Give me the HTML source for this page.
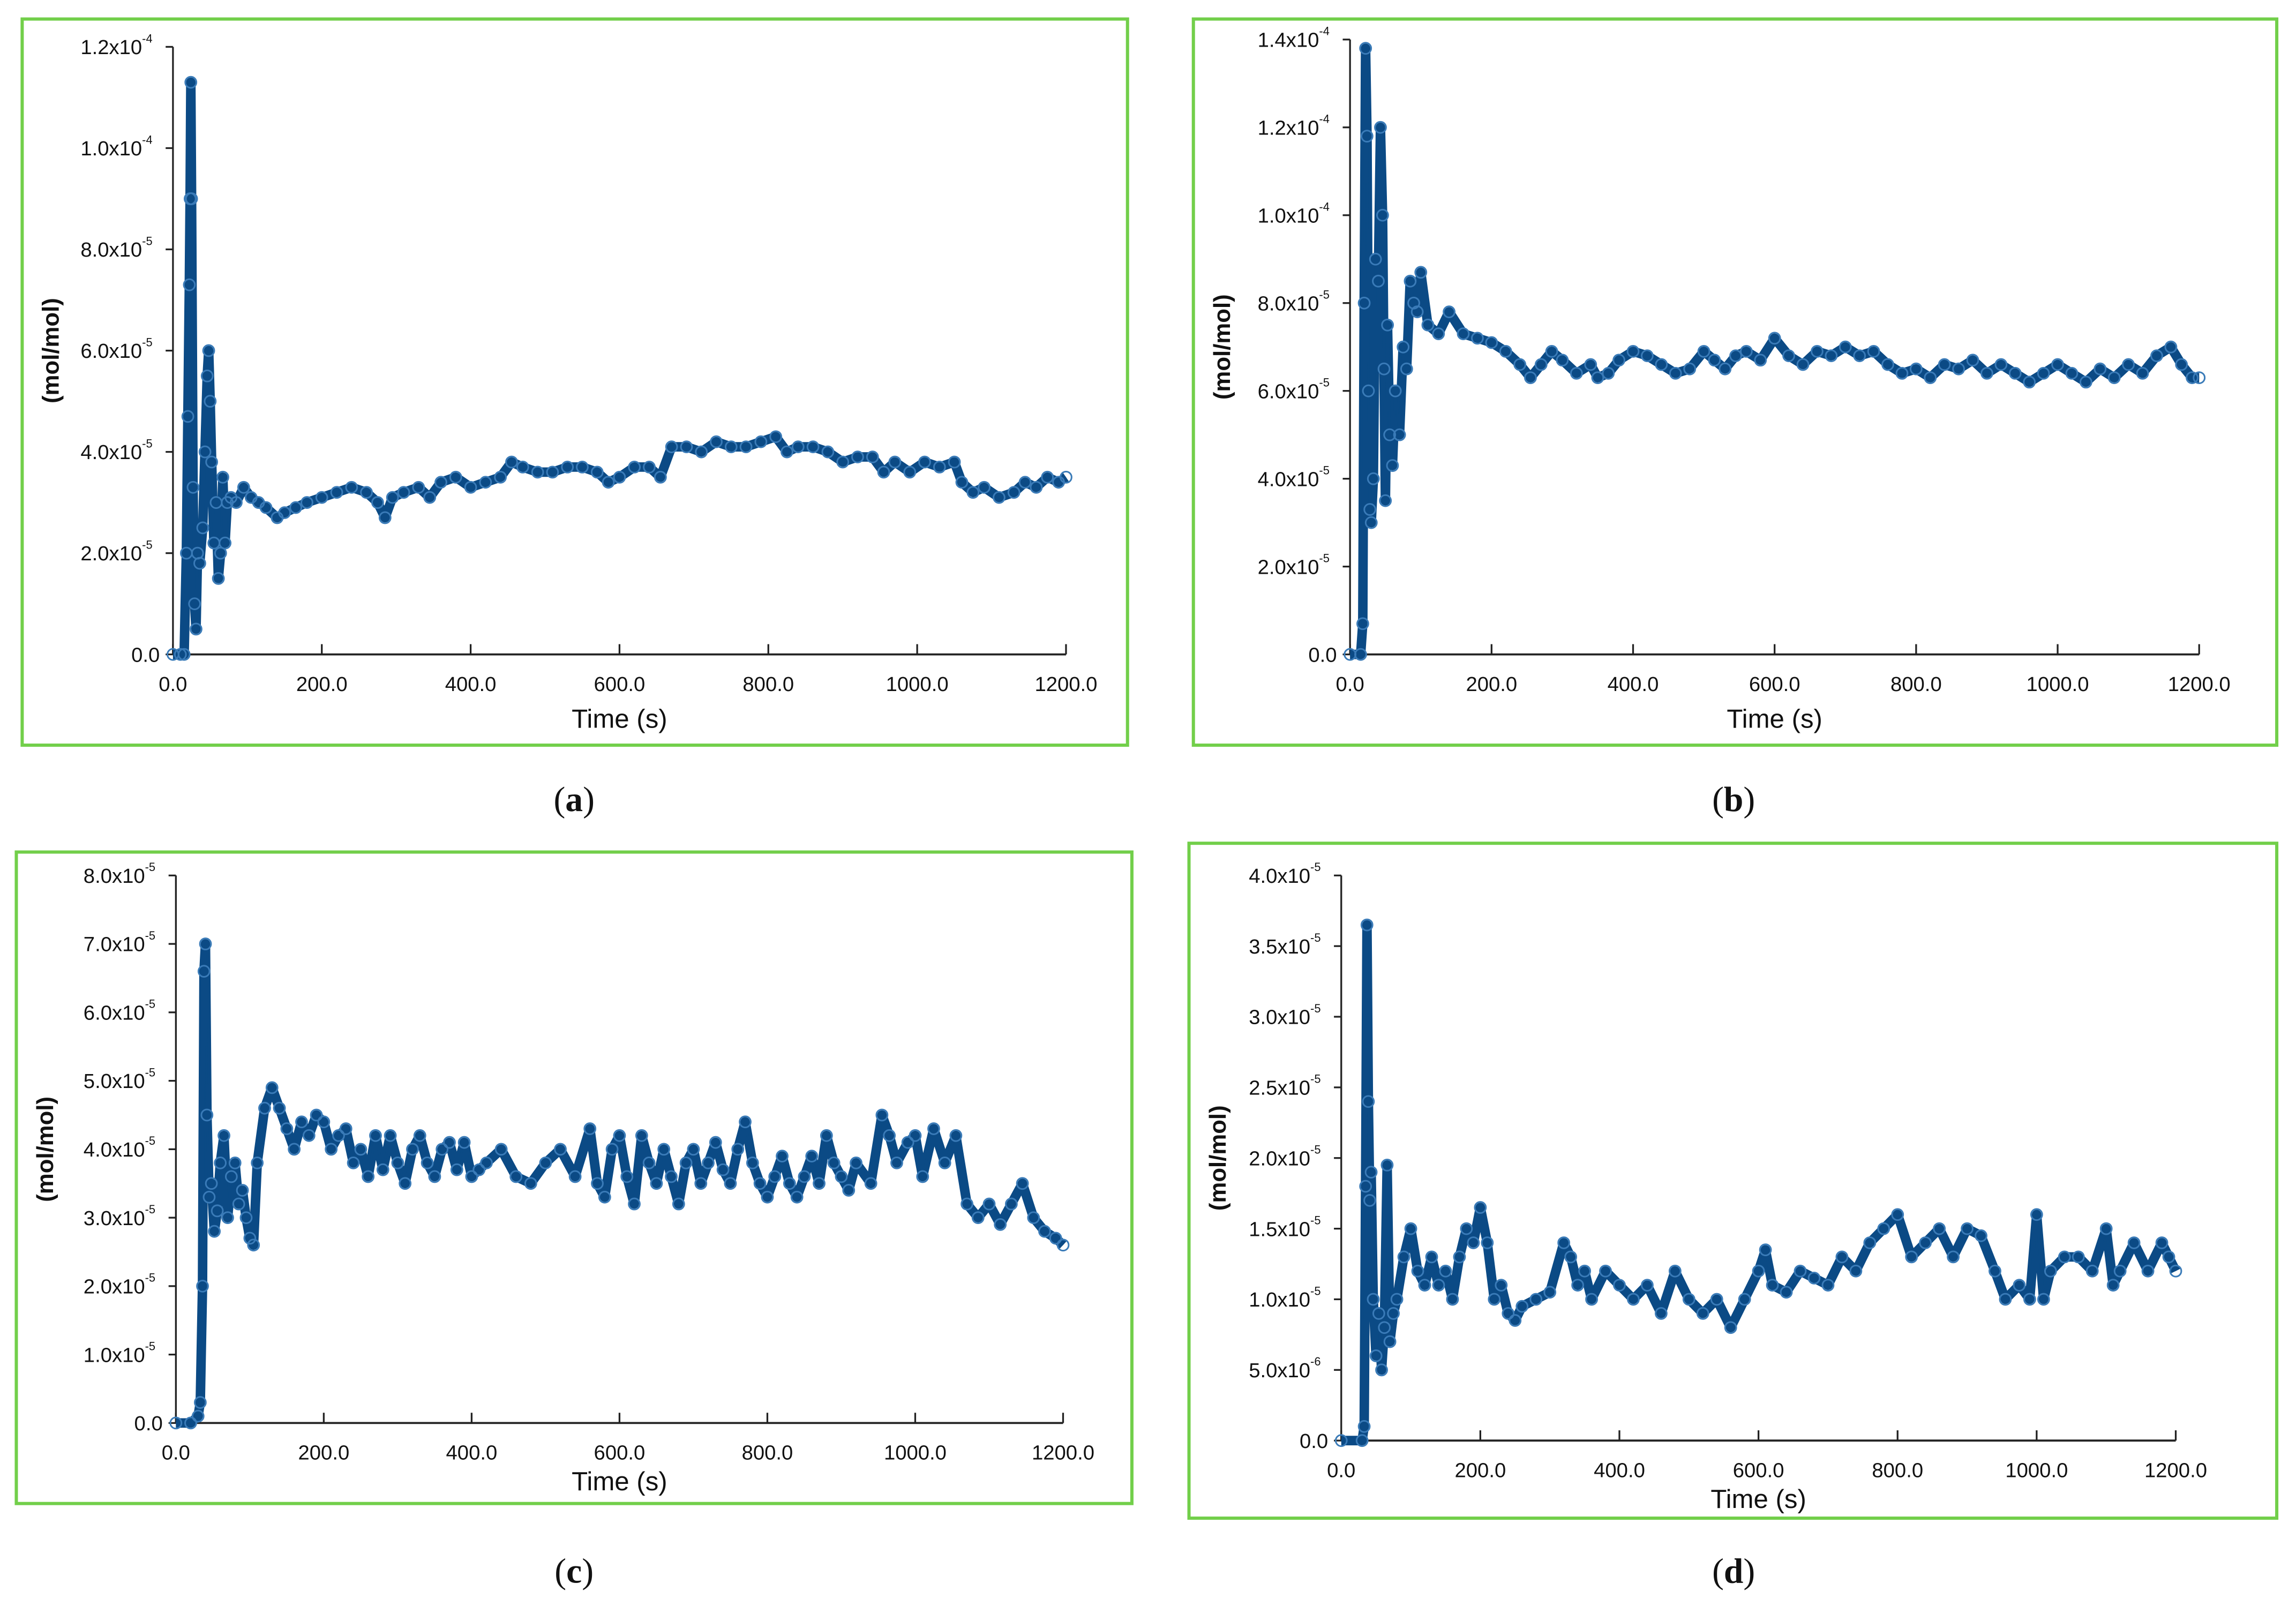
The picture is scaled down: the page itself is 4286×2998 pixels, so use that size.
<!DOCTYPE html>
<html><head><meta charset="utf-8"><style>
html,body{margin:0;padding:0;background:#fff;}
svg{display:block;}
text{font-family:"Liberation Sans Narrow","Liberation Sans",sans-serif;fill:#111;}
.cap{font-family:"Liberation Serif",serif;}
</style></head><body>
<svg id="fig" width="4286" height="2998" viewBox="0 0 1568 1097" xmlns="http://www.w3.org/2000/svg"></svg>
<script>
// Time values (s) and mole fractions (units of 1e-5) per panel
const timesA=[0,10,15,18,20,22,23,24,25,27,29,31,33,36,40,43,46,48,50,52,55,58,61,64,67,70,73,78,85,95,105,115,125,140,150,165,180,200,220,240,260,275,285,295,310,330,345,360,380,400,420,440,455,470,490,510,530,550,570,585,600,620,640,655,670,690,710,730,750,770,790,810,825,840,860,880,900,920,940,955,970,990,1010,1030,1050,1060,1075,1090,1110,1130,1145,1160,1175,1190,1200];
const valuesA=[0,0,0,2,4.7,7.3,9,11.3,9,3.3,1,0.5,2,1.8,2.5,4,5.5,6,5,3.8,2.2,3,1.5,2,3.5,2.2,3,3.1,3,3.3,3.1,3,2.9,2.7,2.8,2.9,3.0,3.1,3.2,3.3,3.2,3.0,2.7,3.1,3.2,3.3,3.1,3.4,3.5,3.3,3.4,3.5,3.8,3.7,3.6,3.6,3.7,3.7,3.6,3.4,3.5,3.7,3.7,3.5,4.1,4.1,4.0,4.2,4.1,4.1,4.2,4.3,4.0,4.1,4.1,4.0,3.8,3.9,3.9,3.6,3.8,3.6,3.8,3.7,3.8,3.4,3.2,3.3,3.1,3.2,3.4,3.3,3.5,3.4,3.5];
const timesB=[0,15,18,20,22,24,26,28,30,33,36,40,43,46,48,50,53,56,60,64,70,75,80,85,90,95,100,110,125,140,160,180,200,220,240,255,270,285,300,320,340,350,365,380,400,420,440,460,480,500,515,530,545,560,580,600,620,640,660,680,700,720,740,760,780,800,820,840,860,880,900,920,940,960,980,1000,1020,1040,1060,1080,1100,1120,1140,1160,1175,1190,1200];
const valuesB=[0,0,0.7,8,13.8,11.8,6,3.3,3,4,9,8.5,12,10,6.5,3.5,7.5,5,4.3,6,5,7,6.5,8.5,8,7.8,8.7,7.5,7.3,7.8,7.3,7.2,7.1,6.9,6.6,6.3,6.6,6.9,6.7,6.4,6.6,6.3,6.4,6.7,6.9,6.8,6.6,6.4,6.5,6.9,6.7,6.5,6.8,6.9,6.7,7.2,6.8,6.6,6.9,6.8,7.0,6.8,6.9,6.6,6.4,6.5,6.3,6.6,6.5,6.7,6.4,6.6,6.4,6.2,6.4,6.6,6.4,6.2,6.5,6.3,6.6,6.4,6.8,7.0,6.6,6.3,6.3];
const timesC=[0,20,30,33,36,38,40,42,45,48,52,56,60,65,70,75,80,85,90,95,100,105,110,120,130,140,150,160,170,180,190,200,210,220,230,240,250,260,270,280,290,300,310,320,330,340,350,360,370,380,390,400,410,420,440,460,480,500,520,540,560,570,580,590,600,610,620,630,640,650,660,670,680,690,700,710,720,730,740,750,760,770,780,790,800,810,820,830,840,850,860,870,880,890,900,910,920,940,955,965,975,990,1000,1010,1025,1040,1055,1070,1085,1100,1115,1130,1145,1160,1175,1190,1200];
const valuesC=[0,0,0.1,0.3,2,6.6,7,4.5,3.3,3.5,2.8,3.1,3.8,4.2,3.0,3.6,3.8,3.2,3.4,3.0,2.7,2.6,3.8,4.6,4.9,4.6,4.3,4.0,4.4,4.2,4.5,4.4,4.0,4.2,4.3,3.8,4.0,3.6,4.2,3.7,4.2,3.8,3.5,4.0,4.2,3.8,3.6,4.0,4.1,3.7,4.1,3.6,3.7,3.8,4.0,3.6,3.5,3.8,4.0,3.6,4.3,3.5,3.3,4.0,4.2,3.6,3.2,4.2,3.8,3.5,4.0,3.6,3.2,3.8,4.0,3.5,3.8,4.1,3.7,3.5,4.0,4.4,3.8,3.5,3.3,3.6,3.9,3.5,3.3,3.6,3.9,3.5,4.2,3.8,3.6,3.4,3.8,3.5,4.5,4.2,3.8,4.1,4.2,3.6,4.3,3.8,4.2,3.2,3.0,3.2,2.9,3.2,3.5,3.0,2.8,2.7,2.6];
const timesD=[0,30,33,35,37,39,41,43,46,50,54,58,62,66,70,75,80,90,100,110,120,130,140,150,160,170,180,190,200,210,220,230,240,250,260,280,300,320,330,340,350,360,380,400,420,440,460,480,500,520,540,560,580,600,610,620,640,660,680,700,720,740,760,780,800,820,840,860,880,900,920,940,955,975,990,1000,1010,1020,1040,1060,1080,1100,1110,1120,1140,1160,1180,1190,1200];
const valuesD=[0,0,0.1,1.8,3.65,2.4,1.7,1.9,1.0,0.6,0.9,0.5,0.8,1.95,0.7,0.9,1.0,1.3,1.5,1.2,1.1,1.3,1.1,1.2,1.0,1.3,1.5,1.4,1.65,1.4,1.0,1.1,0.9,0.85,0.95,1.0,1.05,1.4,1.3,1.1,1.2,1.0,1.2,1.1,1.0,1.1,0.9,1.2,1.0,0.9,1.0,0.8,1.0,1.2,1.35,1.1,1.05,1.2,1.15,1.1,1.3,1.2,1.4,1.5,1.6,1.3,1.4,1.5,1.3,1.5,1.45,1.2,1.0,1.1,1.0,1.6,1.0,1.2,1.3,1.3,1.2,1.5,1.1,1.2,1.4,1.2,1.4,1.3,1.2];
const xTicks=[0,200,400,600,800,1000,1200];
const xTickLabels=["0.0","200.0","400.0","600.0","800.0","1000.0","1200.0"];
const yTicksA=[0,2,4,6,8,10,12];
const yLabelsA=[["0.0",""],["2.0x10","-5"],["4.0x10","-5"],["6.0x10","-5"],["8.0x10","-5"],["1.0x10","-4"],["1.2x10","-4"]];
const yTicksB=[0,2,4,6,8,10,12,14];
const yLabelsB=[["0.0",""],["2.0x10","-5"],["4.0x10","-5"],["6.0x10","-5"],["8.0x10","-5"],["1.0x10","-4"],["1.2x10","-4"],["1.4x10","-4"]];
const yTicksC=[0,1,2,3,4,5,6,7,8];
const yLabelsC=[["0.0",""],["1.0x10","-5"],["2.0x10","-5"],["3.0x10","-5"],["4.0x10","-5"],["5.0x10","-5"],["6.0x10","-5"],["7.0x10","-5"],["8.0x10","-5"]];
const yTicksD=[0,0.5,1,1.5,2,2.5,3,3.5,4];
const yLabelsD=[["0.0",""],["5.0x10","-6"],["1.0x10","-5"],["1.5x10","-5"],["2.0x10","-5"],["2.5x10","-5"],["3.0x10","-5"],["3.5x10","-5"],["4.0x10","-5"]];

const panels=[
 {id:'a',box:[15,13,755,496],x0:118,x1:728,y0:447,y1:32,ymax:12,t:timesA,v:valuesA,yt:yTicksA,yl:yLabelsA,cap:[392,546],xt:492},
 {id:'b',box:[815,13,740,496],x0:922,x1:1502,y0:447,y1:27,ymax:14,t:timesB,v:valuesB,yt:yTicksB,yl:yLabelsB,cap:[1184,546],xt:492},
 {id:'c',box:[11,582,762,445],x0:120,x1:726,y0:972,y1:598,ymax:8,t:timesC,v:valuesC,yt:yTicksC,yl:yLabelsC,cap:[392,1073],xt:1013},
 {id:'d',box:[812,576,743,461],x0:916,x1:1486,y0:984,y1:598,ymax:4,t:timesD,v:valuesD,yt:yTicksD,yl:yLabelsD,cap:[1184,1073],xt:1025}
];
const NS='http://www.w3.org/2000/svg';
const svg=document.getElementById('fig');
function mk(tag,attrs,parent){const e=document.createElementNS(NS,tag);for(const k in attrs)e.setAttribute(k,attrs[k]);(parent||svg).appendChild(e);return e;}
panels.forEach(p=>{
 const g=mk('g',{});
 
 
 const xs=t=>p.x0+(t/1200)*(p.x1-p.x0);
 const ys=v=>p.y0-(v/p.ymax)*(p.y0-p.y1);
 const fr=mk('rect',{x:p.box[0],y:p.box[1],width:p.box[2],height:p.box[3],fill:'none',stroke:'#72cf4a','stroke-width':2.2},g);
 
 
 const ya=mk('line',{x1:p.x0,y1:p.y0,x2:p.x0,y2:p.y1,stroke:'#222','stroke-width':1.2},g);
 
 
 const xa=mk('line',{x1:p.x0,y1:p.y0,x2:p.x1,y2:p.y0,stroke:'#222','stroke-width':1.4},g);
 
 
 p.yt.forEach((v,i)=>{
  const y=ys(v);
  mk('line',{x1:p.x0-5,y1:y,x2:p.x0,y2:y,stroke:'#222','stroke-width':1.2},g);
  const tx=mk('text',{x:p.x0-9,y:y+5,'font-size':14,'text-anchor':'end'},g);
  
  
  if(p.yl[i][1]){
   tx.setAttribute('x',p.x0-14);
   tx.textContent=p.yl[i][0];
   const s=mk('tspan',{'font-size':8,dy:-8},tx);s.textContent=p.yl[i][1];
  } else tx.textContent=p.yl[i][0];
 });
 xTicks.forEach((t,i)=>{
  const x=xs(t);
  mk('line',{x1:x,y1:p.y0,x2:x,y2:p.y0-7,stroke:'#222','stroke-width':1.2},g);
  const tx=mk('text',{x:x,y:p.y0+25,'font-size':14,'text-anchor':'middle'},g);
  
  
  tx.textContent=xTickLabels[i];
 });
 const xt=mk('text',{x:(p.x0+p.x1)/2,y:p.xt+5,'font-size':18,'text-anchor':'middle'},g);
 
 
 xt.textContent='Time (s)';
 const ymid=(p.y0+p.y1)/2;
 const yt=mk('text',{x:0,y:0,'font-size':16,'font-weight':'bold','text-anchor':'middle',transform:`translate(${p.box[0]+25},${ymid}) rotate(-90)`,style:'font-family:"Liberation Sans",sans-serif'},g);
 
 
 yt.textContent='(mol/mol)';
 const pts=p.t.map((t,i)=>xs(t).toFixed(2)+','+ys(p.v[i]).toFixed(2)).join(' ');
 const ln=mk('polyline',{points:pts,fill:'none',stroke:'#0b4a85','stroke-width':6.5,'stroke-linejoin':'round'},g);
 
 
 mk('polyline',{points:pts,fill:'none',stroke:'#0b4a85','stroke-width':1.6},g);
 p.t.forEach((t,i)=>{
  const c=mk('circle',{cx:xs(t),cy:ys(p.v[i]),r:3.8,fill:'none',stroke:'#3a7bb8','stroke-width':1.1},g);
  
  
 });
 const cap=mk('text',{x:p.cap[0],y:p.cap[1]+8,'font-size':24,'text-anchor':'middle',class:'cap'},g);
 
 
 cap.textContent='(';
 const b=mk('tspan',{'font-weight':'bold'},cap);b.textContent=p.id;
 const e=mk('tspan',{},cap);e.textContent=')';
});
</script>
</body></html>
